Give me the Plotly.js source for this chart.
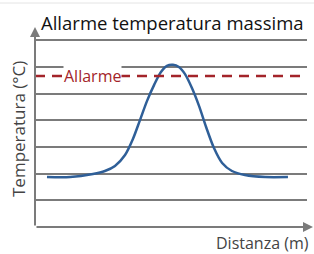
<!DOCTYPE html>
<html><head><meta charset="utf-8">
<script src="https://cdn.plot.ly/plotly-3.0.1.min.js"></script>
<style>html,body{margin:0;padding:0;background:#fff}#c{width:314px;height:254px}</style>
</head><body><div id="c"></div>
<script>
var distanza = [4.4, 12.9, 21.3, 25.7, 29.4, 33.1, 36.0, 38.6, 41.2, 43.8, 46.3, 48.5, 50.7, 52.9, 55.1, 57.7, 60.3, 62.9, 65.8, 68.8, 72.4, 77.2, 84.6, 93.0];
var temperatura = [1.875, 1.875, 1.99, 2.1, 2.29, 2.7, 3.3, 4.01, 4.73, 5.33, 5.81, 6.04, 6.08, 6.0, 5.74, 5.21, 4.54, 3.75, 2.96, 2.4, 2.1, 1.95, 1.875, 1.875];
var soglia = 5.66;
var titolo = "Allarme temperatura massima";
var etichetta = "Allarme";
var titoloX = "Distanza (m)";
var titoloY = "Temperatura (°C)";

var font = "Open Sans, sans-serif";
var grigio = "#7b7b7b";
var traces = [{
  x: distanza, y: temperatura, type: "scatter", mode: "lines",
  line: {color: "#2f5f98", width: 2.5, shape: "spline", smoothing: 0.8},
  hoverinfo: "skip"
}];
var layout = {
  width: 314, height: 254,
  margin: {l: 35, r: 7, t: 27, b: 27},
  paper_bgcolor: "#fff", plot_bgcolor: "#fff",
  showlegend: false,
  xaxis: {range: [0, 100], showgrid: false, zeroline: false, showticklabels: false, ticks: "", fixedrange: true},
  yaxis: {range: [0, 7.5], dtick: 1, tick0: 0, showgrid: true, gridcolor: grigio, gridwidth: 2,
          zeroline: false, showticklabels: false, ticks: "", fixedrange: true},
  shapes: [
    {type: "line", xref: "x", yref: "y", x0: 0, x1: 100, y0: soglia, y1: soglia,
     line: {color: "#a3242a", width: 2.5, dash: "10px,7px"}},
    {type: "line", xref: "paper", yref: "paper", x0: -0.2, x1: 1.1, y0: 1.12, y1: 1.12,
     line: {color: "#e4e4e4", width: 1}}
  ],
  annotations: [
    {xref: "paper", yref: "paper", x: 1.022, y: 0, ax: -278, ay: 0, axref: "pixel", ayref: "pixel",
     showarrow: true, text: "", arrowhead: 2, arrowsize: 1, arrowwidth: 2, arrowcolor: grigio},
    {xref: "paper", yref: "paper", x: 0, y: 1, ax: 0, ay: 200, showarrow: true, text: "",
     arrowhead: 2, arrowsize: 1, arrowwidth: 2, arrowcolor: grigio},
    {xref: "x", yref: "y", x: 21, y: soglia, text: etichetta, showarrow: false, bgcolor: "#fff",
     font: {family: font, size: 16, color: "#a3242a"}, borderpad: 0},
    {xref: "paper", yref: "paper", x: 0.505, xanchor: "center", y: 1.02, yanchor: "middle", text: titolo, showarrow: false,
     font: {family: font, size: 18.5, color: "#111"}},
    {xref: "paper", yref: "paper", x: 1.0, xanchor: "right", xshift: 4, y: -0.08, yanchor: "middle", text: titoloX, showarrow: false,
     font: {family: font, size: 16, color: "#444"}},
    {xref: "paper", yref: "paper", x: -0.0625, xanchor: "center", y: 0.49, yanchor: "middle", text: titoloY, textangle: -90, showarrow: false,
     font: {family: font, size: 17, color: "#444"}}
  ]
};
Plotly.newPlot("c", traces, layout, {staticPlot: true, displayModeBar: false});
</script></body></html>
